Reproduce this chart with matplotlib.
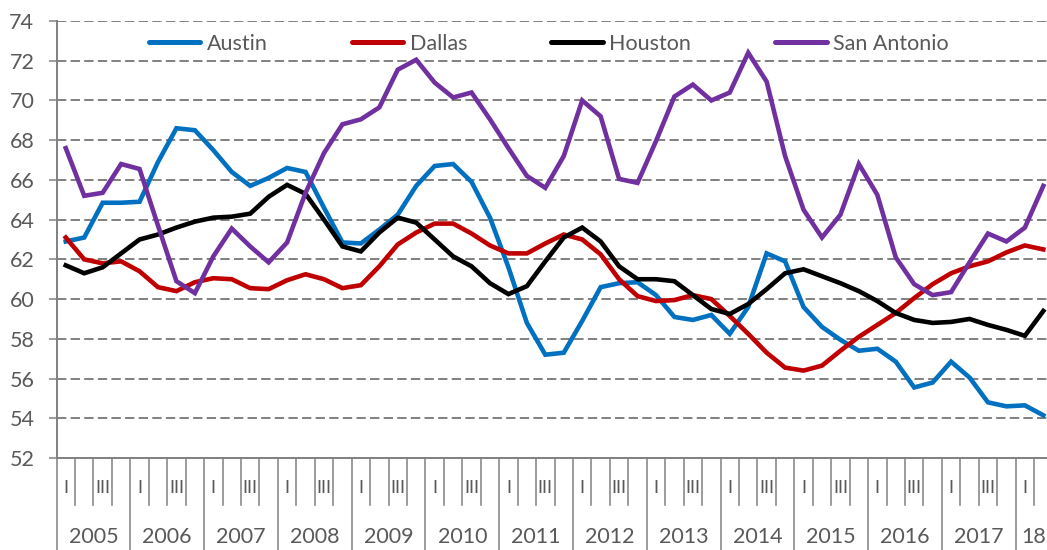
import matplotlib
matplotlib.use("Agg")
import matplotlib.pyplot as plt
import matplotlib.transforms as mtransforms

plt.rcParams['font.family'] = ['Lato', 'DejaVu Sans']

# quarterly series, 2005 Q1 .. 2018 Q2
austin = [62.9, 63.1, 64.85, 64.85, 64.9, 66.9, 68.6, 68.5, 67.5, 66.4,
          65.7, 66.1, 66.6, 66.4, 64.6, 62.85, 62.8, 63.5, 64.25, 65.7,
          66.7, 66.8, 65.9, 64.1, 61.6, 58.8, 57.2, 57.3, 58.9, 60.6,
          60.8, 60.85, 60.2, 59.1, 58.95, 59.2, 58.25, 59.6, 62.3, 61.9,
          59.6, 58.6, 57.95, 57.4, 57.5, 56.85, 55.55, 55.8, 56.85, 56.05,
          54.8, 54.6, 54.65, 54.15]
dallas = [63.1, 62.0, 61.8, 61.9, 61.4, 60.6, 60.4, 60.85, 61.05, 61.0,
          60.55, 60.5, 60.95, 61.25, 61.0, 60.55, 60.7, 61.65, 62.75, 63.35,
          63.8, 63.8, 63.3, 62.7, 62.3, 62.3, 62.8, 63.25, 63.0, 62.25,
          61.0, 60.15, 59.9, 59.95, 60.2, 60.0, 59.15, 58.25, 57.3, 56.55,
          56.4, 56.65, 57.4, 58.1, 58.7, 59.3, 60.05, 60.75, 61.3, 61.65,
          61.9, 62.35, 62.7, 62.5]
houston = [61.7, 61.3, 61.6, 62.3, 63.0, 63.25, 63.6, 63.9, 64.1, 64.15,
           64.3, 65.15, 65.75, 65.3, 64.0, 62.65, 62.4, 63.35, 64.1, 63.85,
           63.0, 62.15, 61.65, 60.8, 60.25, 60.65, 61.9, 63.1, 63.6, 62.9,
           61.65, 61.0, 61.0, 60.9, 60.2, 59.5, 59.25, 59.75, 60.5, 61.3,
           61.5, 61.15, 60.8, 60.4, 59.9, 59.3, 58.95, 58.8, 58.85, 59.0,
           58.7, 58.45, 58.15, 59.4]
san_antonio = [67.6, 65.2, 65.35, 66.8, 66.55, 63.7, 60.9, 60.3, 62.15, 63.55,
               62.65, 61.85, 62.85, 65.35, 67.35, 68.8, 69.05, 69.65, 71.55, 72.05,
               70.9, 70.15, 70.4, 69.05, 67.6, 66.2, 65.6, 67.2, 70.0, 69.2,
               66.05, 65.85, 67.95, 70.2, 70.8, 70.0, 70.4, 72.4, 70.95, 67.2,
               64.5, 63.1, 64.25, 66.8, 65.25, 62.1, 60.75, 60.2, 60.35, 61.85,
               63.3, 62.9, 63.6, 65.7]

years = ['2005', '2006', '2007', '2008', '2009', '2010', '2011', '2012',
         '2013', '2014', '2015', '2016', '2017', '18']
quarter_labels = ['I', '', 'III', '']

series = [('Austin', austin, '#0070C0'),
          ('Dallas', dallas, '#C00000'),
          ('Houston', houston, '#000000'),
          ('San Antonio', san_antonio, '#7030A0')]

gray = '#808080'
txt = '#595959'

fig = plt.figure(figsize=(10.47, 5.5), dpi=100)
ax = fig.add_axes([0.054, 0.1673, 0.946, 0.7945])

n = len(austin)
x = list(range(n))
for name, vals, col in series:
    ax.plot(x, vals, color=col, lw=3.3, label=name, solid_joinstyle='miter', zorder=3)

ax.set_xlim(-0.5, 53.2)
ax.set_ylim(52, 74)
ax.set_yticks(range(52, 75, 2))
ax.tick_params(axis='y', direction='out', length=6, width=1.1, color=gray,
               labelcolor=txt, labelsize=15.5, pad=10)

# dashed horizontal grid (skip the bottom one, that is the axis)
for v in range(54, 75, 2):
    ax.axhline(v, color=gray, lw=1.4, linestyle=(0, (4.8, 2.2)), zorder=1)

for s in ['top', 'right']:
    ax.spines[s].set_visible(False)
for s in ['left', 'bottom']:
    ax.spines[s].set_color(gray)
    ax.spines[s].set_linewidth(1.4)

# category axis: ticks between quarters, long ticks between years
ax.set_xticks([])
trans = mtransforms.blended_transform_factory(ax.transData, ax.transAxes)
px = 1.0 / (550 * 0.7945)  # one pixel in axes-y units
for b in range(n + 1):
    xb = b - 0.5
    if xb > 53.2:
        continue
    depth = 92 if b % 4 == 0 else 47
    ax.plot([xb, xb], [0, -depth * px], color=gray, lw=1.1, transform=trans,
            clip_on=False)
for i in range(n):
    lab = quarter_labels[i % 4]
    if lab:
        ax.text(i, -30 * px, lab, transform=trans, ha='center', va='center',
                fontsize=13, color=txt)
for k, yr in enumerate(years):
    xc = 4 * k + 1.5
    if yr == '18':
        xc = 52.5
    ax.text(xc, -79 * px, yr, transform=trans, ha='center', va='center',
            fontsize=15.5, color=txt)

leg = ax.legend(loc='upper center', bbox_to_anchor=(0.497, 1.0), ncol=4, frameon=False,
                fontsize=15.5, labelcolor=txt, handlelength=2.4, handletextpad=0.3,
                columnspacing=3.9, borderaxespad=0.2)
for h in leg.get_lines():
    h.set_linewidth(3.6)
    h.set_solid_capstyle('round')

fig.savefig('out.png', dpi=100)
